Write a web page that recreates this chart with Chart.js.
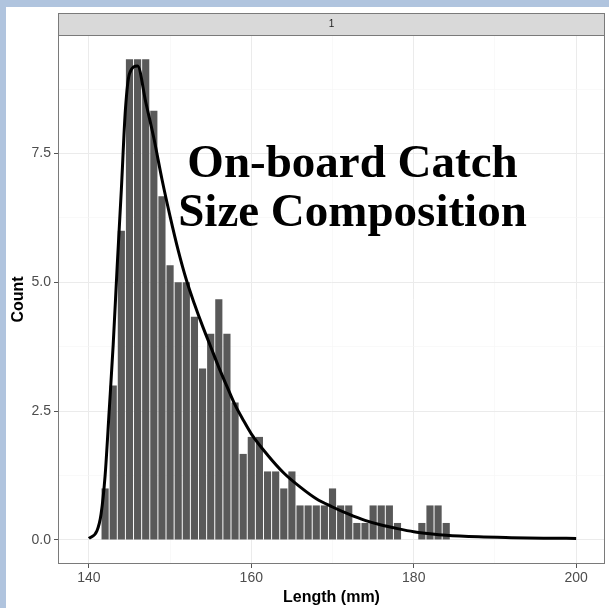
<!DOCTYPE html>
<html>
<head>
<meta charset="utf-8">
<script src="https://cdn.jsdelivr.net/npm/chart.js@4/dist/chart.umd.min.js"></script>
<style>
  body { margin: 0; background: #b0c4de; width: 609px; height: 608px; overflow: hidden; }
  #chart { position: absolute; left: 6px; top: 7px; background: #fff; }
</style>
</head>
<body>
<canvas id="chart" width="603" height="601"></canvas>
<script>
// histogram bins (mm) and their heights
const lengthBins = [142, 143, 144, 145, 146, 147, 148, 149, 150, 151, 152, 153, 154, 155, 156, 157, 158, 159, 160, 161,
  162, 163, 164, 165, 166, 167, 168, 169, 170, 171, 172, 173, 174, 175, 176, 177, 178, 179, 180, 181, 182, 183, 184];
const counts = [1, 3, 6, 9.33, 9.33, 9.33, 8.33, 6.67, 5.33, 5, 5, 4.33, 3.33, 4, 4.67, 4, 2.67, 1.67, 2, 2,
  1.33, 1.33, 1, 1.33, 0.67, 0.67, 0.67, 0.67, 1, 0.67, 0.67, 0.33, 0.33, 0.67, 0.67, 0.67, 0.33, 0, 0, 0.33, 0.67, 0.67, 0.33];

// fitted curve
const curveX = [140, 141, 141.5, 142, 142.5, 143, 143.5, 144, 144.5, 145, 146, 147, 148, 149, 150, 151, 152, 153, 154, 155,
  156, 157, 158, 159, 160, 162, 164, 166, 168, 170, 172, 174, 176, 178, 180, 182, 184, 188, 192, 196, 200];
const curveY = [0.03, 0.18, 0.5, 1.25, 2.5, 3.8, 5.35, 6.8, 8.35, 9.05, 9.2, 8.5, 7.8, 7.0, 6.28, 5.62, 5.05, 4.58, 4.15, 3.75,
  3.35, 2.98, 2.62, 2.33, 2.06, 1.65, 1.3, 1.03, 0.8, 0.64, 0.5, 0.38, 0.29, 0.22, 0.16, 0.12, 0.09, 0.06, 0.045, 0.035, 0.03];

const xTicks = [140, 160, 180, 200];
const xMinor = [150, 170, 190];
const yTicks = [0, 2.5, 5, 7.5];
const yMinor = [1.25, 3.75, 6.25, 8.75];

const stripLabel = "1";
const titleLines = ["On-board Catch", "Size Composition"];

const tickGray = "#4d4d4d";

const ggPanel = {
  id: "ggPanel",
  afterDraw(chart) {
    const { ctx, chartArea: a } = chart;
    ctx.save();
    // panel border
    ctx.strokeStyle = "#7a7a7a";
    ctx.lineWidth = 1;
    ctx.strokeRect(a.left + 0.5, a.top + 0.5, a.right - a.left - 1, a.bottom - a.top - 1);
    // facet strip
    ctx.fillStyle = "#d9d9d9";
    ctx.fillRect(a.left, a.top - 22, a.right - a.left, 22);
    ctx.strokeRect(a.left + 0.5, a.top - 21.5, a.right - a.left - 1, 22);
    ctx.fillStyle = "#1a1a1a";
    ctx.font = "10px 'Liberation Sans'";
    ctx.textAlign = "center";
    ctx.textBaseline = "middle";
    ctx.fillText(stripLabel, (a.left + a.right) / 2, a.top - 11);
    // overlay title
    ctx.fillStyle = "#000";
    ctx.font = "bold 47px 'Liberation Serif'";
    ctx.textBaseline = "alphabetic";
    ctx.fillText(titleLines[0], 346.5, 170);
    ctx.fillText(titleLines[1], 346.5, 218.5);
    ctx.restore();
  }
};

const ctx = document.getElementById("chart").getContext("2d");
const chart = new Chart(ctx, {
  type: "bar",
  data: {
    datasets: [
      {
        type: "line",
        data: curveX.map((x, i) => ({ x: x, y: curveY[i] })),
        borderColor: "#000",
        borderWidth: 3,
        pointRadius: 0,
        cubicInterpolationMode: "monotone",
        order: 0,
      },
      {
        data: lengthBins.map((x, i) => ({ x: x, y: counts[i] })),
        backgroundColor: "#595959",
        borderWidth: 0,
        barPercentage: 0.88,
        categoryPercentage: 1,
        order: 1,
      },
    ],
  },
  options: {
    responsive: false,
    animation: false,
    devicePixelRatio: 1,
    layout: { padding: { top: 28, right: 4, bottom: 0, left: 0 } },
    plugins: { legend: { display: false }, tooltip: { enabled: false } },
    scales: {
      x: {
        type: "linear",
        min: 136.2,
        max: 203.55,
        offset: false,
        afterBuildTicks: (axis) => {
          axis.ticks = [...xTicks, ...xMinor].sort((p, q) => p - q).map((v) => ({ value: v }));
        },
        afterFit: (axis) => { axis.height = 44; },
        grid: {
          offset: false,
          color: (c) => (xTicks.includes(c.tick.value) ? "#ebebeb" : "#f5f5f5"),
          lineWidth: (c) => (xTicks.includes(c.tick.value) ? 1 : 0.6),
          tickColor: (c) => (xTicks.includes(c.tick.value) ? "#555" : "rgba(0,0,0,0)"),
          tickLength: 4,
        },
        border: { display: false },
        ticks: {
          autoSkip: false,
          maxRotation: 0,
          padding: 2,
          color: tickGray,
          font: { family: "'Liberation Sans'", size: 14 },
          callback: (v) => (xTicks.includes(v) ? String(v) : ""),
        },
        title: {
          display: true,
          text: "Length (mm)",
          color: "#000",
          padding: { top: 0, bottom: 1 },
          font: { family: "'Liberation Sans'", size: 16, weight: "bold" },
        },
      },
      y: {
        min: -0.4665,
        max: 9.8,
        afterBuildTicks: (axis) => {
          axis.ticks = [...yTicks, ...yMinor].sort((p, q) => p - q).map((v) => ({ value: v }));
        },
        afterFit: (axis) => { axis.width = 52; },
        grid: {
          color: (c) => (yTicks.includes(c.tick.value) ? "#ebebeb" : "#f5f5f5"),
          lineWidth: (c) => (yTicks.includes(c.tick.value) ? 1 : 0.6),
          tickColor: (c) => (yTicks.includes(c.tick.value) ? "#555" : "rgba(0,0,0,0)"),
          tickLength: 4,
        },
        border: { display: false },
        ticks: {
          autoSkip: false,
          padding: 3,
          color: tickGray,
          font: { family: "'Liberation Sans'", size: 14 },
          callback: (v) => (yTicks.includes(v) ? v.toFixed(1) : ""),
        },
        title: {
          display: true,
          text: "Count",
          color: "#000",
          padding: { top: 3, bottom: 0 },
          font: { family: "'Liberation Sans'", size: 16, weight: "bold" },
        },
      },
    },
  },
  plugins: [ggPanel],
});
</script>
</body>
</html>
